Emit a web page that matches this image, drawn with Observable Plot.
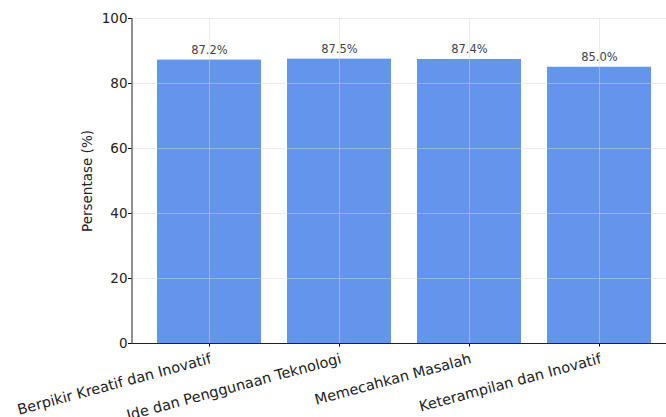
<!DOCTYPE html>
<html>
<head>
<meta charset="utf-8">
<script src="https://cdn.jsdelivr.net/npm/d3@7"></script>
<script src="https://cdn.jsdelivr.net/npm/@observablehq/plot@0.6"></script>
<style>
  html, body { margin: 0; padding: 0; background: white; overflow: hidden; }
  #chart svg { overflow: hidden; display: block; }
</style>
</head>
<body>
<div id="chart"></div>
<script>
const categories = [
  "Berpikir Kreatif dan Inovatif",
  "Ide dan Penggunaan Teknologi",
  "Memecahkan Masalah",
  "Keterampilan dan Inovatif"
];
const values = [87.2, 87.5, 87.4, 85.0];
const yTicks = [0, 20, 40, 60, 80, 100];

const data = categories.map((c, i) => ({category: c, value: values[i]}));

const chart = Plot.plot({
  width: 666,
  height: 417,
  marginTop: 18,
  marginBottom: 74,
  marginLeft: 131.5,
  marginRight: 0,
  style: {fontFamily: "DejaVu Sans, sans-serif", background: "white", overflow: "hidden"},
  x: {domain: categories, range: [131.5, 677], paddingInner: 0.2, paddingOuter: 0.19, label: null},
  y: {domain: [0, 100], label: "Persentase (%)"},
  marks: [
    Plot.barY(data, {x: "category", y: "value", fill: "#6495ED"}),
    Plot.gridY(yTicks, {stroke: "#d8d8d8", strokeOpacity: 0.6, strokeWidth: 0.8}),
    Plot.gridX(categories, {stroke: "#d8d8d8", strokeOpacity: 0.6, strokeWidth: 0.8}),
    Plot.text(data, {x: "category", y: "value", text: d => d.value.toFixed(1) + "%", lineAnchor: "bottom", dy: -6, fontSize: 11.5, fill: "#444"}),
    Plot.axisY(yTicks, {tickSize: 3.5, fontSize: 13.5, fill: "#222", tickPadding: 1, label: "Persentase (%)", labelAnchor: "center", labelArrow: "none", labelOffset: 50}),
    Plot.axisX({tickSize: 3.5, tickRotate: -15, textAnchor: "end", lineAnchor: "top", fontSize: 14.5, fill: "#222", tickPadding: 6, label: null}),
    Plot.ruleY([0], {stroke: "#222", strokeWidth: 1}),
    Plot.frame({anchor: "left", stroke: "#222"})
  ]
});
document.getElementById("chart").appendChild(chart);
</script>
</body>
</html>
